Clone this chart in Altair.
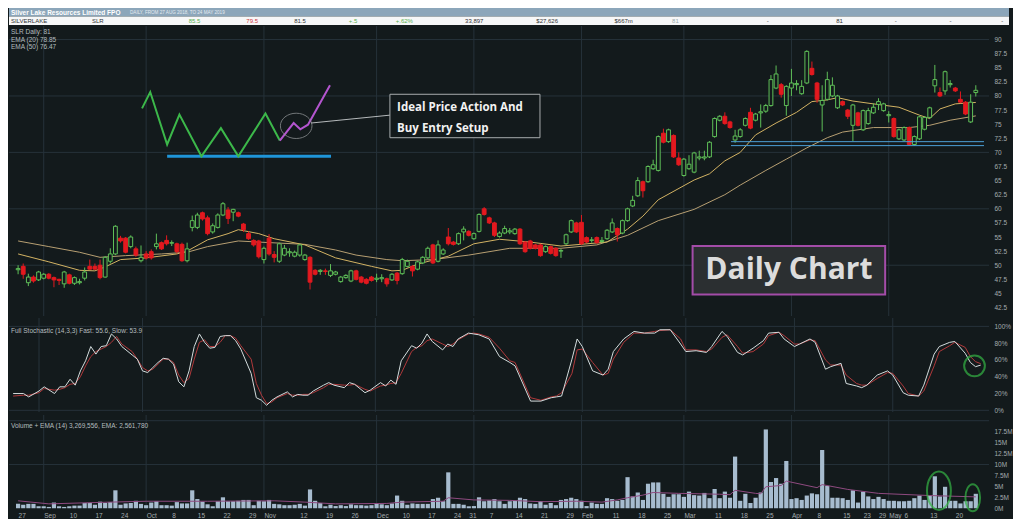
import altair as alt
import pandas as pd

# ---------------- colours / fonts ----------------
BG = "#131a1c"
GRID = "#26323a"
AXC = "#a3abae"
LEG = "#b4bcbf"
GREEN = "#5fbf58"
RED = "#e3191f"
FONT = "Liberation Sans"

# ---------------- calendar ----------------
holidays = ["2018-12-25", "2018-12-26", "2019-01-01", "2019-01-28",
            "2019-04-19", "2019-04-22", "2019-04-25"]
trading_days = [d.strftime("%Y-%m-%d") for d in pd.bdate_range("2018-08-27", "2019-05-24")
                if d.strftime("%Y-%m-%d") not in holidays]
day_index = {d: k for k, d in enumerate(trading_days)}

tick_dates = ["2018-08-27", "2018-09-03", "2018-09-10", "2018-09-17", "2018-09-24", "2018-10-01",
              "2018-10-08", "2018-10-15", "2018-10-22", "2018-10-29", "2018-11-01", "2018-11-12",
              "2018-11-19", "2018-11-26", "2018-12-03", "2018-12-10", "2018-12-17", "2018-12-24",
              "2018-12-31", "2019-01-07", "2019-01-14", "2019-01-21", "2019-01-29", "2019-02-01",
              "2019-02-11", "2019-02-18", "2019-02-25", "2019-03-01", "2019-03-11", "2019-03-18",
              "2019-03-25", "2019-04-01", "2019-04-08", "2019-04-15", "2019-04-23", "2019-04-29",
              "2019-05-01", "2019-05-06", "2019-05-13", "2019-05-20"]
tick_labels = ["27", "Sep", "10", "17", "24", "Oct", "8", "15", "22", "29", "Nov", "12", "19", "26",
               "Dec", "10", "17", "24", "31", "7", "14", "21", "29", "Feb", "11", "18", "25", "Mar",
               "11", "18", "25", "Apr", "8", "15", "23", "29", "May", "6", "13", "20"]

# ---------------- price data ----------------
opens = [49.2, 49.8, 46.9, 47.9, 47.4, 47.7, 48.4, 47.8, 47.5, 46.7,
         48.3, 46.8, 46.9, 47.7, 49.8, 49.8, 50.0, 47.9, 50.7, 52.0,
         54.8, 54.8, 53.3, 52.9, 50.8, 52.0, 52.4, 53.3, 54.0, 54.4,
         53.9, 53.8, 53.7, 50.8, 56.7, 56.7, 59.3, 58.4, 55.9, 56.7,
         58.9, 59.8, 59.4, 59.3, 57.3, 55.6, 54.4, 54.3, 51.0, 54.8,
         51.9, 50.7, 51.8, 52.2, 51.6, 51.8, 51.0, 51.4, 49.1, 48.9,
         49.0, 48.2, 48.4, 47.1, 47.8, 47.2, 49.0, 47.9, 47.5, 47.9,
         47.5, 47.6, 47.6, 47.4, 48.6, 48.5, 49.8, 49.8, 49.3, 50.4,
         51.3, 53.6, 50.7, 52.0, 55.0, 54.1, 53.8, 55.9, 56.0, 54.7,
         56.0, 60.0, 58.4, 57.5, 55.1, 55.7, 55.9, 55.6, 56.4, 54.1,
         54.3, 53.6, 53.6, 52.4, 53.3, 53.0, 52.5, 53.8, 55.9, 57.5,
         57.6, 54.9, 54.4, 54.9, 54.2, 54.7, 55.9, 56.5, 55.7, 57.9,
         60.5, 62.3, 64.8, 64.8, 67.1, 66.8, 73.4, 71.9, 73.0, 69.0,
         65.9, 67.1, 66.5, 69.0, 69.0, 69.2, 72.8, 75.7, 76.4, 75.4,
         72.2, 72.8, 74.8, 77.1, 75.7, 77.0, 77.3, 78.3, 81.4, 82.0,
         78.3, 81.4, 82.0, 80.4, 82.3, 84.9, 82.3, 78.4, 79.4, 80.0,
         77.9, 79.0, 77.5, 74.8, 77.0, 74.0, 75.1, 77.0, 78.5, 77.4,
         76.5, 76.0, 72.4, 72.2, 74.4, 71.4, 72.4, 74.1, 76.2, 81.8,
         80.6, 80.9, 82.0, 81.4, 79.4, 78.9, 75.4, 80.6]
closes = [49.4, 48.4, 47.9, 47.2, 48.8, 48.4, 47.7, 47.4, 47.3, 48.8,
          46.8, 47.8, 47.1, 48.8, 49.3, 49.3, 47.8, 51.4, 52.0, 56.9,
          54.3, 52.3, 55.0, 51.8, 51.4, 51.3, 51.3, 53.8, 52.9, 53.8,
          54.0, 52.4, 50.8, 52.9, 57.9, 58.9, 58.2, 55.6, 57.0, 58.9,
          60.9, 58.3, 59.9, 58.7, 56.3, 54.7, 53.6, 51.5, 53.0, 52.0,
          51.4, 53.8, 53.0, 52.4, 52.3, 53.6, 51.8, 47.0, 48.4, 49.1,
          48.9, 49.0, 48.8, 47.9, 48.2, 49.0, 47.5, 47.0, 46.8, 47.3,
          47.7, 47.8, 46.7, 48.4, 47.3, 51.0, 50.7, 49.0, 50.6, 51.4,
          53.0, 50.4, 53.6, 52.7, 53.8, 53.7, 55.6, 56.4, 55.3, 55.6,
          59.0, 59.0, 57.5, 55.3, 55.7, 56.5, 56.1, 56.4, 53.8, 52.4,
          53.0, 53.0, 51.7, 53.3, 52.1, 51.7, 52.6, 55.4, 57.9, 55.9,
          53.8, 54.1, 54.5, 54.0, 54.4, 56.2, 57.5, 55.4, 57.9, 60.0,
          61.5, 65.0, 63.2, 67.5, 67.8, 72.8, 71.8, 74.0, 69.2, 67.8,
          68.8, 67.9, 69.9, 69.2, 69.2, 71.8, 76.0, 76.4, 75.1, 74.4,
          72.9, 74.0, 76.0, 74.3, 76.8, 77.2, 78.3, 82.9, 83.9, 80.3,
          81.7, 82.3, 82.2, 81.7, 87.9, 83.8, 79.4, 79.2, 82.9, 81.9,
          80.0, 78.4, 76.4, 78.4, 74.8, 77.4, 77.4, 78.0, 79.0, 78.6,
          76.7, 72.8, 74.0, 74.4, 71.4, 72.8, 76.3, 76.2, 77.9, 82.9,
          80.0, 84.3, 82.2, 80.9, 78.9, 76.8, 78.9, 81.0]
highs = [50.0, 50.3, 48.5, 48.2, 49.0, 48.6, 48.6, 48.0, 47.6, 49.0,
         48.5, 48.0, 47.6, 49.6, 51.0, 50.3, 51.0, 51.6, 53.0, 57.1,
         55.2, 55.0, 55.3, 53.3, 53.5, 52.5, 52.8, 55.6, 54.2, 55.3,
         54.4, 54.0, 54.0, 54.0, 58.8, 59.3, 59.5, 58.8, 57.4, 59.2,
         61.2, 60.3, 60.0, 59.5, 57.5, 56.0, 54.6, 54.5, 53.3, 55.5,
         52.5, 54.0, 53.6, 53.0, 52.6, 53.8, 52.0, 51.6, 49.3, 49.3,
         49.4, 50.2, 49.0, 48.1, 48.4, 49.2, 49.2, 48.1, 47.7, 48.1,
         48.5, 48.4, 47.8, 48.6, 48.8, 51.3, 51.0, 50.0, 50.8, 51.6,
         53.3, 53.8, 54.4, 53.0, 56.6, 54.3, 55.8, 56.9, 56.2, 55.8,
         59.2, 60.3, 58.6, 57.7, 56.0, 57.0, 56.6, 56.6, 56.6, 54.3,
         54.5, 53.8, 53.8, 53.5, 53.5, 53.2, 52.9, 55.6, 58.1, 57.7,
         58.9, 55.1, 55.0, 55.1, 55.0, 56.4, 58.3, 56.7, 58.1, 60.2,
         62.3, 65.6, 65.0, 67.7, 68.7, 73.0, 74.2, 74.2, 73.2, 70.0,
         69.0, 69.5, 70.1, 70.3, 70.3, 72.0, 76.2, 76.6, 77.1, 75.6,
         74.0, 74.3, 76.2, 77.9, 77.0, 78.5, 78.6, 83.7, 85.4, 82.3,
         81.9, 84.8, 82.8, 82.8, 88.1, 86.1, 82.5, 81.9, 84.3, 83.3,
         80.2, 79.2, 77.7, 78.6, 77.2, 77.6, 77.9, 78.7, 79.6, 78.8,
         77.3, 76.2, 74.2, 74.6, 74.6, 73.0, 76.5, 76.4, 78.1, 85.5,
         81.5, 84.5, 82.8, 81.6, 80.8, 79.1, 80.3, 81.9]
lows = [48.4, 47.6, 46.3, 46.9, 47.2, 47.5, 47.5, 46.1, 46.5, 46.0,
        46.6, 46.5, 46.6, 47.3, 49.2, 49.2, 47.5, 47.8, 50.3, 51.8,
        54.0, 52.1, 53.0, 51.5, 50.5, 51.0, 51.0, 52.8, 52.7, 53.5,
        53.4, 52.1, 50.6, 50.5, 56.0, 56.4, 57.9, 55.3, 55.6, 56.5,
        58.7, 57.3, 57.8, 58.5, 55.9, 54.5, 53.3, 51.2, 50.3, 51.7,
        50.5, 50.4, 51.6, 51.5, 51.4, 51.5, 50.8, 45.7, 48.2, 48.3,
        48.3, 47.9, 48.2, 46.9, 47.6, 47.0, 47.3, 46.8, 46.6, 47.1,
        47.0, 47.0, 46.2, 47.2, 46.6, 48.3, 49.6, 48.0, 49.1, 50.2,
        51.1, 50.2, 50.5, 51.8, 53.5, 53.5, 53.6, 54.4, 55.1, 54.5,
        55.8, 58.8, 57.3, 55.0, 54.9, 55.5, 55.5, 55.4, 53.6, 52.2,
        52.8, 52.8, 51.5, 52.2, 51.9, 51.5, 51.3, 53.6, 55.7, 55.7,
        53.6, 53.9, 54.0, 53.8, 53.9, 54.5, 55.7, 54.2, 55.5, 57.7,
        60.3, 62.1, 62.0, 64.6, 66.9, 66.6, 71.6, 71.7, 69.0, 67.6,
        65.7, 66.9, 66.3, 68.6, 68.6, 69.0, 72.6, 75.5, 74.9, 74.2,
        71.7, 72.6, 74.6, 74.1, 75.5, 74.4, 77.0, 78.1, 81.2, 79.7,
        76.5, 80.0, 81.0, 80.2, 82.1, 83.6, 78.8, 73.7, 79.2, 79.8,
        77.7, 78.2, 75.9, 72.0, 74.6, 73.8, 74.9, 76.8, 77.5, 77.2,
        75.3, 72.6, 72.2, 72.0, 71.2, 71.2, 72.2, 73.9, 76.0, 80.6,
        79.8, 80.2, 81.5, 80.7, 78.7, 76.6, 75.2, 79.9]
# volume in millions of shares
volumes = [1.0, 0.8, 1.0, 1.0, 0.45, 0.45, 0.3, 1.3, 0.45, 0.3,
           0.45, 0.6, 0.6, 1.2, 1.2, 0.8, 1.5, 1.2, 1.4, 4.1,
           0.8, 1.1, 1.2, 1.7, 1.0, 0.7, 1.3, 1.6, 0.7, 0.7,
           0.6, 1.4, 1.1, 1.1, 4.1, 2.1, 1.5, 0.9, 0.45, 1.6,
           2.5, 1.6, 1.6, 1.7, 1.9, 1.9, 0.7, 1.7, 1.6, 1.9,
           1.0, 0.9, 0.7, 0.7, 0.8, 1.0, 0.6, 4.3, 1.7, 1.2,
           0.45, 0.8, 0.5, 0.7, 0.5, 0.9, 0.7, 0.7, 0.6, 0.7,
           1.0, 0.9, 0.7, 1.1, 2.9, 1.7, 0.8, 1.1, 1.0, 1.0,
           1.0, 2.1, 2.4, 1.6, 8.2, 1.0, 1.0, 0.8, 0.45, 0.5,
           2.5, 1.6, 1.8, 2.1, 1.6, 1.0, 1.6, 1.7, 2.4, 2.1,
           1.1, 1.0, 1.6, 0.8, 1.2, 0.7, 1.9, 2.1, 2.4, 2.1,
           1.7, 0.5, 1.3, 1.0, 1.0, 2.3, 2.1, 1.7, 1.9, 7.1,
           2.7, 3.6, 1.9, 5.6, 5.9, 5.9, 3.3, 2.6, 3.2, 3.2,
           2.6, 3.8, 3.0, 2.9, 3.5, 2.3, 4.4, 2.3, 3.8, 2.4,
           11.8, 1.7, 3.3, 1.2, 2.4, 3.6, 18.0, 6.0, 6.9, 5.6,
           10.8, 2.1, 2.3, 1.9, 2.9, 3.4, 3.2, 13.3, 5.1, 2.4,
           2.4, 2.3, 1.9, 4.1, 1.3, 3.8, 2.7, 2.1, 2.6, 2.1,
           1.7, 1.7, 1.6, 1.6, 1.7, 2.3, 2.9, 1.9, 2.9, 7.3,
           2.7, 4.9, 1.7, 1.7, 1.1, 1.6, 1.6, 3.3]

# moving averages (day index, value)
ema20_idx = [0, 6, 12, 15, 17, 20, 25, 31, 33, 37, 41, 43, 47, 50, 56, 62, 69, 73, 75, 78,
             84, 89, 94, 100, 106, 115, 119, 122, 125, 132, 135, 138, 141, 144, 148, 152, 155, 158,
             160, 163, 167, 172, 176, 178, 180, 183, 187]
ema20_val = [52.0, 50.6, 49.1, 49.0, 49.7, 51.0, 51.3, 52.0, 52.5, 54.5, 55.6, 56.3, 55.6, 54.7,
             53.6, 51.3, 49.8, 49.0, 49.1, 50.2, 51.6, 53.8, 54.6, 54.1, 53.4, 54.1, 56.4, 58.7,
             61.6, 65.1, 66.2, 68.5, 70.0, 73.1, 75.2, 77.1, 79.0, 79.3, 79.7, 79.1, 78.6, 78.0,
             76.6, 76.0, 77.7, 78.6, 78.85]
ema50_idx = [0, 6, 12, 16, 21, 28, 33, 37, 43, 47, 56, 62, 66, 72, 75, 81, 88, 96, 106, 113,
             119, 125, 132, 138, 141, 146, 150, 154, 158, 161, 167, 174, 178, 182, 187]
ema50_val = [54.3, 53.3, 52.3, 51.4, 51.7, 52.0, 52.3, 53.3, 54.3, 54.1, 53.7, 52.7, 51.8, 51.0,
             50.8, 51.0, 51.8, 53.0, 53.0, 53.6, 55.3, 57.9, 59.9, 62.5, 64.2, 66.8, 68.8, 70.8,
             72.6, 73.6, 74.4, 74.4, 74.8, 75.7, 76.47]

# full stochastic (day index, white line, red line)
stoch_idx = [0, 2, 3, 5, 6, 8, 9, 10, 11, 12, 13, 14, 15, 16, 17, 18, 19, 20, 21, 23,
             24, 25, 26, 27, 28, 29, 30, 31, 32, 33, 34, 35, 36, 37, 38, 39, 40, 41, 42, 43,
             44, 46, 47, 48, 49, 50, 51, 53, 54, 55, 56, 57, 58, 60, 61, 62, 64, 65, 66, 68,
             69, 71, 72, 73, 74, 75, 77, 78, 79, 80, 81, 83, 84, 85, 86, 88, 89, 90, 92, 94,
             96, 97, 100, 102, 104, 105, 106, 108, 109, 110, 112, 114, 115, 116, 118, 120, 122, 124, 125, 127,
             129, 130, 132, 134, 135, 137, 138, 140, 141, 143, 145, 146, 148, 149, 151, 152, 154, 155, 157, 158,
             160, 161, 163, 164, 165, 167, 169, 170, 172, 173, 175, 176, 178, 179, 181, 182, 184, 185, 186, 187]
stoch_white = [20, 20, 16, 23, 28, 20, 28, 28, 37, 30, 47, 59, 76, 67, 76, 77, 91, 85, 76, 66,
               61, 47, 45, 51, 57, 62, 61, 55, 34, 28, 47, 76, 91, 81, 74, 75, 88, 89, 89, 83,
               73, 44, 15, 12, 6, 12, 16, 22, 16, 19, 18, 18, 23, 30, 33, 30, 27, 33, 31, 21,
               24, 33, 29, 36, 31, 59, 77, 74, 80, 91, 82, 72, 79, 76, 85, 92, 91, 90, 85, 64,
               57, 53, 11, 11, 15, 16, 17, 61, 85, 76, 47, 42, 49, 70, 85, 94, 92, 92, 96, 96,
               79, 70, 71, 69, 76, 94, 88, 69, 66, 74, 83, 92, 93, 85, 76, 79, 85, 81, 49, 52,
               56, 32, 29, 27, 30, 42, 47, 42, 21, 18, 17, 30, 67, 76, 81, 82, 68, 57, 52, 53.9]
stoch_red = [17, 18, 18, 21, 26, 24, 25, 27, 31, 32, 40, 53, 64, 70, 73, 76, 81, 88, 79, 70,
             61, 51, 47, 49, 55, 61, 61, 57, 42, 33, 38, 61, 81, 84, 76, 76, 81, 89, 89, 86,
             77, 61, 32, 18, 8, 10, 15, 20, 18, 18, 19, 19, 21, 27, 31, 31, 30, 30, 31, 25,
             23, 29, 30, 32, 33, 44, 70, 75, 77, 83, 85, 79, 76, 79, 84, 91, 92, 91, 87, 74,
             59, 57, 15, 12, 16, 17, 21, 44, 72, 73, 57, 42, 44, 61, 81, 92, 92, 94, 95, 96,
             85, 72, 72, 70, 73, 87, 90, 76, 68, 70, 79, 89, 93, 89, 79, 79, 84, 83, 60, 54,
             54, 42, 32, 30, 30, 38, 45, 44, 29, 20, 17, 23, 53, 70, 77, 81, 75, 64, 58, 55.6]

# volume EMA(14), millions
volema_idx = [0, 6, 18, 25, 37, 50, 56, 62, 72, 75, 83, 84, 89, 96, 102, 109, 114, 117, 119, 122,
              124, 129, 137, 139, 140, 144, 145, 146, 149, 150, 156, 157, 162, 168, 178, 187]
volema_val = [1.7, 1.0, 1.4, 1.6, 1.6, 1.7, 1.4, 1.0, 1.1, 1.4, 1.6, 2.4, 1.9, 1.8, 1.5, 1.6,
              1.4, 1.9, 2.4, 3.0, 3.6, 3.4, 3.2, 3.1, 4.1, 3.4, 3.3, 4.9, 5.2, 6.2, 4.7, 5.4,
              4.3, 3.4, 2.9, 2.6]

# axis tick values
price_ticks = [42.5, 45, 47.5, 50, 52.5, 55, 57.5, 60, 62.5, 65, 67.5, 70, 72.5, 75, 77.5,
               80, 82.5, 85, 87.5, 90]
price_grid = [50, 60, 70, 80, 90]
stoch_ticks = [0, 20, 40, 60, 80, 100]
vol_ticks = [0, 2.5, 5, 7.5, 10, 12.5, 15, 17.5]

# hand-drawn annotations (day index, price)
ideal_x = [24.2, 25.8, 29.1, 31.5, 35.8, 39.6, 43.0, 48.3, 51.1]
ideal_y = [77.8, 80.7, 71.4, 76.7, 69.3, 74.3, 69.3, 76.9, 72.1]
entry_x = [51.1, 53.8, 55.1, 56.6, 60.9]
entry_y = [72.1, 75.2, 74.1, 74.9, 81.9]
floor_x = [29.1, 61.1]
floor_y = 69.3
support_x = [139.2, 188.6]
support_y = [71.9, 71.2]

# header texts
header_cells = ["SILVERLAKE", "SLR", "85.5", "79.5", "81.5", "+.5", "+.62%", "33,897",
                "$27,626", "$667m", "81", "-", "81", "-", "-", "-"]
header_colors = ["#333", "#333", "#58b04f", "#d0383a", "#333", "#58b04f", "#58b04f", "#333",
                 "#333", "#333", "#9aa", "#333", "#333", "#333", "#333", "#333"]
header_pos = [2, 85, 184, 243, 292, 348, 396, 467, 540, 620, 679, 776, 847, 907, 963, 1016]

# ---------------- frames ----------------
df = pd.DataFrame({"i": range(len(trading_days)), "date": trading_days, "open": opens,
                   "high": highs, "low": lows, "close": closes, "vol": volumes})
df["dir"] = ["up" if c >= o else "down" for o, c in zip(opens, closes)]

month_idx = [k for k in range(1, len(trading_days)) if trading_days[k][:7] != trading_days[k - 1][:7]]
months = pd.DataFrame({"i": month_idx})
tick_idx = [day_index[d] for d in tick_dates]
one = pd.DataFrame({"a": [0]})

W = 980
HW = 1000
xs = alt.Scale(domain=[-0.8, 188.6], nice=False, zero=False)
ps = alt.Scale(domain=[41, 92.4], nice=False, zero=False)
ss = alt.Scale(domain=[-2, 110], nice=False, zero=False)
vs = alt.Scale(domain=[-0.4, 21.3], nice=False, zero=False)

axis_common = dict(orient="right", domain=False, ticks=False, grid=False, labelColor=AXC,
                   labelFont=FONT, labelFontSize=6.5, labelPadding=5, title=None)
price_axis = alt.Axis(values=price_ticks, labelExpr="format(datum.value, '~g')", **axis_common)
stoch_axis = alt.Axis(values=stoch_ticks, labelExpr="datum.value + '%'", **axis_common)
vol_axis = alt.Axis(values=vol_ticks, labelExpr="format(datum.value, '~g') + 'M'", **axis_common)
label_expr = ("[" + ",".join("'%s'" % s for s in tick_labels) + "][indexof(["
              + ",".join(str(k) for k in tick_idx) + "], datum.value)]")
x_axis = alt.Axis(values=tick_idx, labelExpr=label_expr, orient="bottom", domain=False,
                  ticks=False, grid=False, labelColor=AXC, labelFont=FONT, labelFontSize=6.5,
                  labelAlign="left", labelPadding=2, labelOverlap=False, labelFlush=False,
                  title=None)


def X(f="i", axis=None):
    return alt.X(f + ":Q", scale=xs, axis=axis, title=None)


def legend_text(s, ypx):
    return alt.Chart(one).mark_text(text=s, align="left", baseline="top", font=FONT,
                                    fontSize=6.5, color=LEG).encode(x=alt.value(2), y=alt.value(ypx))


def vgrid(axis=None):
    return alt.Chart(months).mark_rule(color=GRID, strokeWidth=1).encode(x=X(axis=axis))


# ---------------- header ----------------
hdr = pd.DataFrame({"t": header_cells, "c": header_colors, "pos": header_pos})
header = alt.layer(
    alt.Chart(one).mark_rect(color="#8ca6ba").encode(x=alt.value(0), x2=alt.value(HW),
                                                      y=alt.value(0), y2=alt.value(8.5)),
    alt.Chart(one).mark_rect(color="#f6f7f8").encode(x=alt.value(0), x2=alt.value(HW),
                                                      y=alt.value(8.5), y2=alt.value(17)),
    alt.Chart(one).mark_text(text="Silver Lake Resources Limited FPO", align="left",
                             baseline="middle", font=FONT, fontWeight="bold", fontSize=6.5,
                             color="white").encode(x=alt.value(2), y=alt.value(4.5)),
    alt.Chart(one).mark_text(text="DAILY, FROM 27 AUG 2018, TO 24 MAY 2019", align="left",
                             baseline="middle", font=FONT, fontSize=4.6,
                             color="#e4ebf1").encode(x=alt.value(121), y=alt.value(4.8)),
    alt.Chart(hdr).mark_text(align="left", baseline="middle", font=FONT, fontSize=6).encode(
        x=alt.X("pos:Q", scale=alt.Scale(domain=[0, 1024], range=[0, HW]), axis=None),
        y=alt.value(12.9), text="t:N", color=alt.Color("c:N", scale=None)),
).properties(width=HW, height=17)

# ---------------- price panel ----------------
ema20 = pd.DataFrame({"i": ema20_idx, "v": ema20_val})
ema50 = pd.DataFrame({"i": ema50_idx, "v": ema50_val})
ideal = pd.DataFrame({"i": ideal_x, "p": ideal_y})
entry = pd.DataFrame({"i": entry_x, "p": entry_y})
floor_df = pd.DataFrame({"i": [floor_x[0]], "i2": [floor_x[1]], "p": [floor_y]})
support = pd.DataFrame({"i": [support_x[0]] * 2, "i2": [support_x[1]] * 2, "p": support_y})
ellipse = pd.DataFrame({"i": [54.3], "p": [74.7]})
callout = pd.DataFrame({"i": [57.2], "i2": [72.6], "p": [75.2], "p2": [76.6]})
box1 = pd.DataFrame({"i": [72.6], "i2": [101.9], "p": [80.3], "p2": [72.6]})
box1_txt = pd.DataFrame({"i": [74.0, 74.0], "p": [77.9, 74.2],
                         "t": ["Ideal Price Action And", "Buy Entry Setup"]})
box2 = pd.DataFrame({"i": [131.7], "i2": [169.3], "p": [53.4], "p2": [44.8]})
box2_txt = pd.DataFrame({"i": [150.5], "p": [49.1], "t": ["Daily Chart"]})

dir_scale_stroke = alt.Scale(domain=["up", "down"], range=[GREEN, RED])
dir_scale_fill = alt.Scale(domain=["up", "down"], range=[BG, RED])


def PY(f):
    return alt.Y(f + ":Q", scale=ps, axis=price_axis, title=None)


price = alt.layer(
    alt.Chart(pd.DataFrame({"v": price_grid})).mark_rule(color=GRID).encode(y=PY("v")),
    vgrid(),
    alt.Chart(ema50).mark_line(color="#b79f72", strokeWidth=1).encode(x=X(), y=PY("v")),
    alt.Chart(ema20).mark_line(color="#d2b263", strokeWidth=1).encode(x=X(), y=PY("v")),
    alt.Chart(df).mark_rule(strokeWidth=1).encode(
        x=X(), y=PY("low"), y2="high:Q",
        color=alt.Color("dir:N", scale=dir_scale_stroke, legend=None)),
    alt.Chart(df).mark_bar(size=3.8, strokeWidth=1).encode(
        x=X(), y=PY("open"), y2="close:Q",
        fill=alt.Fill("dir:N", scale=dir_scale_fill, legend=None),
        stroke=alt.Stroke("dir:N", scale=dir_scale_stroke, legend=None)),
    alt.Chart(support).mark_rule(color="#4c9fd6", strokeWidth=1).encode(
        x=X(), x2="i2:Q", y=PY("p")),
    alt.Chart(floor_df).mark_rule(color="#1f95d8", strokeWidth=3).encode(
        x=X(), x2="i2:Q", y=PY("p")),
    alt.Chart(ideal).mark_line(color="#3cb84a", strokeWidth=2).encode(x=X(), y=PY("p")),
    alt.Chart(entry).mark_line(color="#b455cf", strokeWidth=2).encode(x=X(), y=PY("p")),
    alt.Chart(ellipse).mark_point(shape="M-1,0A1,0.8,0,1,1,1,0A1,0.8,0,1,1,-1,0Z", size=1000,
                                  filled=False, color="#9a9ea0", strokeWidth=1).encode(
        x=X(), y=PY("p")),
    alt.Chart(callout).mark_rule(color="#b5b9bb", strokeWidth=1).encode(
        x=X(), x2="i2:Q", y=PY("p"), y2="p2:Q"),
    alt.Chart(box1).mark_rect(fill=BG, stroke="#a8acae", strokeWidth=1).encode(
        x=X(), x2="i2:Q", y=PY("p"), y2="p2:Q"),
    alt.Chart(box1_txt).mark_text(align="left", baseline="middle", font="Open Sans",
                                  fontWeight="bold", fontSize=11.5, color="#f2f2f2").encode(
        x=X(), y=PY("p"), text="t:N"),
    alt.Chart(box2).mark_rect(fill="#2b2f31", stroke="#a34ca8", strokeWidth=2).encode(
        x=X(), x2="i2:Q", y=PY("p"), y2="p2:Q"),
    alt.Chart(box2_txt).mark_text(align="center", baseline="middle", font="Open Sans",
                                  fontWeight="bold", fontSize=30, color="#dcdcdc").encode(
        x=X(), y=PY("p"), text="t:N"),
    legend_text("SLR Daily: 81", 3),
    legend_text("EMA (20) 78.85", 10.5),
    legend_text("EMA (50) 76.47", 18),
).properties(width=W, height=290)

# ---------------- stochastic panel ----------------
stoch = pd.DataFrame({"i": stoch_idx, "w": stoch_white, "r": stoch_red})


def SY(f):
    return alt.Y(f + ":Q", scale=ss, axis=stoch_axis, title=None)


stoch_panel = alt.layer(
    alt.Chart(pd.DataFrame({"v": [0, 100]})).mark_rule(color=GRID).encode(y=SY("v")),
    vgrid(),
    alt.Chart(stoch).mark_line(color="#b0393b", strokeWidth=1).encode(x=X(), y=SY("r")),
    alt.Chart(stoch).mark_line(color="#d3dcdd", strokeWidth=1).encode(x=X(), y=SY("w")),
    alt.Chart(pd.DataFrame({"i": [185.8], "v": [53]})).mark_point(
        shape="circle", size=430, filled=False, color="#35b545", strokeWidth=2).encode(
        x=X(), y=SY("v")),
    legend_text("Full Stochastic (14,3,3) Fast: 55.6, Slow: 53.9", 10),
).properties(width=W, height=94)

# ---------------- volume panel ----------------
volema = pd.DataFrame({"i": volema_idx, "v": volema_val})


def VY(f):
    return alt.Y(f + ":Q", scale=vs, axis=vol_axis, title=None)


def VX():
    return X(axis=x_axis)


vol_panel = alt.layer(
    alt.Chart(pd.DataFrame({"v": [10, 20]})).mark_rule(color=GRID).encode(y=VY("v")),
    vgrid(x_axis),
    alt.Chart(df).mark_bar(size=4.2, color="#a7bccf").encode(x=VX(), y=VY("vol")),
    alt.Chart(volema).mark_line(color="#8f4a80", strokeWidth=1).encode(x=VX(), y=VY("v")),
    alt.Chart(pd.DataFrame({"i": [179.8], "v": [4.0]})).mark_point(
        shape="M0,-1A0.62,1,0,1,1,0,1A0.62,1,0,1,1,0,-1Z", size=1480, filled=False,
        color="#35b545", strokeWidth=2).encode(x=VX(), y=VY("v")),
    alt.Chart(pd.DataFrame({"i": [186.4], "v": [2.4]})).mark_point(
        shape="M0,-1A0.54,1,0,1,1,0,1A0.54,1,0,1,1,0,-1Z", size=740, filled=False,
        color="#35b545", strokeWidth=2).encode(x=VX(), y=VY("v")),
    legend_text("Volume + EMA (14) 3,269,556, EMA: 2,561,780", 8),
).properties(width=W, height=95)

chart = alt.vconcat(header, price, stoch_panel, vol_panel, spacing=0).configure(
    background=BG, padding=0).configure_view(strokeWidth=0)

chart.save("out.html", embed_options={"renderer": "svg", "actions": False})
